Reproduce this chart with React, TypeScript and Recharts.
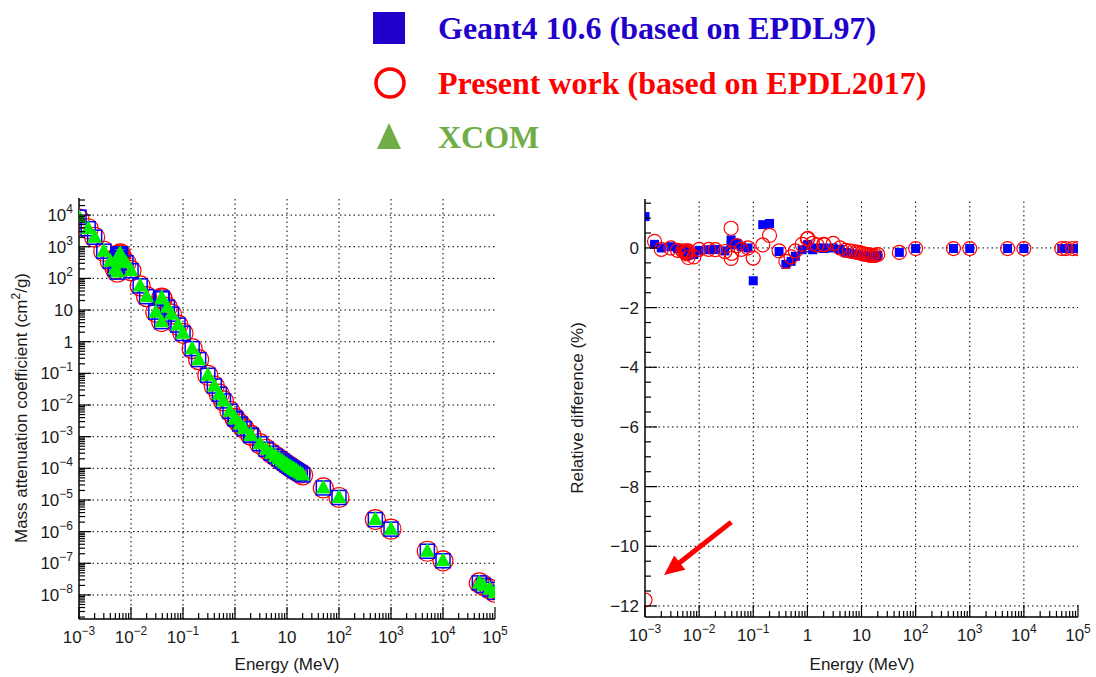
import React from 'react';
import { ScatterChart, Scatter, XAxis, YAxis, ReferenceLine } from 'recharts';

// ---------------- data ----------------
const energies = [
  1e-3, 1.5e-3, 2e-3, 3e-3, 4e-3, 5e-3, 5.483e-3, 5.483e-3, 5.891e-3, 5.891e-3,
  6e-3, 6.266e-3, 6.266e-3, 8e-3, 1e-2, 1.5e-2, 2e-2, 3e-2, 3.8925e-2, 3.8925e-2,
  4e-2, 5e-2, 6e-2, 8e-2, 0.1, 0.15, 0.2, 0.3, 0.4, 0.5,
  0.6, 0.8, 1, 1.022, 1.25, 1.5, 2, 2.044, 3, 4,
  5, 6, 7, 8, 9, 10, 11, 12, 13, 14,
  15, 16, 18, 20, 50, 100, 500, 1000, 5000, 1e4,
  5e4, 6e4, 8e4, 1e5,
];

const xcomValues = [
  8500, 3700, 2000, 720, 350, 200, 158, 430, 360, 560,
  540, 470, 600, 310, 175, 58, 26.5, 8.6, 4.3, 24,
  22.5, 12.2, 7.4, 3.35, 1.85, 0.6, 0.27, 0.087, 0.04, 0.022,
  0.0135, 0.0063, 0.0038, 0.0036, 0.0025, 0.0018, 0.00112, 0.00108, 0.0006, 0.0004,
  0.0003, 0.00024, 0.0002, 0.00017, 0.000148, 0.00013, 0.000117, 0.000106, 0.000097, 0.00009,
  0.000084, 0.000078, 0.00007, 0.000062, 2.4e-5, 1.2e-5, 2.4e-6, 1.2e-6, 2.4e-7, 1.2e-7,
  2.4e-8, 2.0e-8, 1.5e-8, 1.2e-8,
];

// relative difference to XCOM (%)
const geant4Diff = [
  1.05, 0.12, 0.0, 0.04, -0.02, -0.06, -0.08, -0.12, -0.15, -0.18,
  -0.2, -0.25, -0.12, -0.22, -0.08, -0.06, -0.05, -0.1, 0.27, 0.1,
  0.12, 0.15, 0.05, 0.0, -1.1, 0.78, 0.82, -0.12, -0.55, -0.45,
  -0.28, -0.06, 0.08, 0.12, -0.06, 0.0, 0.0, -0.02, 0.0, -0.05,
  -0.15, -0.18, -0.2, -0.22, -0.24, -0.25, -0.26, -0.27, -0.28, -0.28,
  -0.29, -0.28, -0.28, -0.25, -0.15, -0.02, -0.02, -0.02, -0.02, -0.02,
  -0.02, -0.02, -0.02, -0.02,
];

const presentDiff = [
  -11.8, 0.22, -0.05, 0.0, -0.08, -0.1, -0.12, -0.15, -0.2, -0.12,
  -0.1, -0.32, -0.1, -0.3, -0.05, -0.05, -0.06, -0.12, 0.66, -0.35,
  -0.18, 0.08, -0.05, 0.0, -0.34, 0.1, 0.42, -0.1, -0.45, -0.3,
  -0.1, 0.12, 0.3, 0.32, 0.15, 0.1, 0.12, 0.1, 0.15, 0.0,
  -0.08, -0.1, -0.12, -0.14, -0.15, -0.18, -0.2, -0.22, -0.22, -0.24,
  -0.25, -0.25, -0.25, -0.22, -0.15, -0.02, -0.02, -0.02, -0.02, -0.02,
  -0.02, -0.02, -0.02, -0.02,
];

const xMajorTicks = [1e-3, 1e-2, 1e-1, 1, 10, 100, 1e3, 1e4, 1e5];
const xTickLabels = [
  ['10', '\u22123'], ['10', '\u22122'], ['10', '\u22121'], ['1', ''], ['10', ''],
  ['10', '2'], ['10', '3'], ['10', '4'], ['10', '5'],
];
const yLogMajorTicks = [1e-8, 1e-7, 1e-6, 1e-5, 1e-4, 1e-3, 1e-2, 1e-1, 1, 10, 100, 1e3, 1e4];
const yLogTickLabels = [
  ['10', '\u22128'], ['10', '\u22127'], ['10', '\u22126'], ['10', '\u22125'], ['10', '\u22124'],
  ['10', '\u22123'], ['10', '\u22122'], ['10', '\u22121'], ['1', ''], ['10', ''],
  ['10', '2'], ['10', '3'], ['10', '4'],
];
const yLinMajorTicks = [-12, -10, -8, -6, -4, -2, 0];
const yLinTickLabels = ['\u221212', '\u221210', '\u22128', '\u22126', '\u22124', '\u22122', '0'];

const legendLabels = ['Geant4 10.6 (based on EPDL97)', 'Present work (based on EPDL2017)', 'XCOM'];

// ---------------- derived tables ----------------
const xDomain = [1e-3, 1e5];
const yLogDomain = [Math.pow(10, -8.76), Math.pow(10, 4.54)];
const yLinDomain = [-12.37, 1.64];

const minorLog = (lo: number, hi: number) => {
  const out: number[] = [];
  for (let k = Math.floor(Math.log10(lo)); k <= Math.ceil(Math.log10(hi)); k++) {
    for (let m = 2; m <= 9; m++) {
      const v = m * Math.pow(10, k);
      if (v > lo && v < hi) out.push(v);
    }
  }
  return out;
};
const xAllTicks = [...xMajorTicks, ...minorLog(xDomain[0], xDomain[1])];
const yLogAllTicks = [...yLogMajorTicks, ...minorLog(yLogDomain[0], yLogDomain[1])];
const yLinAllTicks: number[] = [];
for (let v = -12; v <= 1.5; v += 0.5) yLinAllTicks.push(v);

const leftXcom = energies.map((e, i) => ({ e, v: xcomValues[i] }));
const leftG4 = energies.map((e, i) => ({ e, v: xcomValues[i] * (1 + geant4Diff[i] / 100) }));
const leftPw = energies.map((e, i) => ({ e, v: xcomValues[i] * (1 + presentDiff[i] / 100) }));
const rightG4 = energies.map((e, i) => ({ e, v: geant4Diff[i] }));
const rightPw = energies.map((e, i) => ({ e, v: presentDiff[i] }));

// ---------------- styling ----------------
const AXIS_FONT = "'Liberation Sans', Arial, Helvetica, sans-serif";
const LEGEND_FONT = "'Liberation Serif', 'Times New Roman', serif";
const TXT = '#1a1a1a';
const BLUE = '#0000ff';
const RED = '#ff0000';
const GREEN = '#00ee00';
const LEG_BLUE = '#2200cc';
const LEG_GREEN = '#70ad47';
const MAJ = 12;
const MIN = 6;

const isDecade = (v: number) => {
  const l = Math.log10(v);
  return Math.abs(l - Math.round(l)) < 1e-6;
};
const findLog = (arr: number[], v: number) =>
  arr.findIndex((t) => Math.abs(Math.log10(t) - Math.log10(v)) < 1e-6);

const SupLabel = ({ x, y, base, sup, anchor }: any) => (
  <text x={x} y={y} textAnchor={anchor} fontSize={17} fontFamily={AXIS_FONT} fill={TXT}>
    {base}
    {sup ? (
      <tspan dy={-8} fontSize={12}>
        {sup}
      </tspan>
    ) : null}
  </text>
);

const XTick = (props: any) => {
  const { x, y, payload, side } = props;
  const v = payload.value;
  const major = isDecade(v);
  const sgn = side === 'bottom' ? -1 : 1;
  const idx = findLog(xMajorTicks, v);
  return (
    <g>
      <line x1={x} y1={y} x2={x} y2={y + sgn * (major ? MAJ : MIN)} stroke="#000" strokeWidth={1.2} />
      {side === 'bottom' && major && idx >= 0 ? (
        <SupLabel x={x} y={y + 24} base={xTickLabels[idx][0]} sup={xTickLabels[idx][1]} anchor="middle" />
      ) : null}
    </g>
  );
};

const YLogTick = (props: any) => {
  const { x, y, payload, side } = props;
  const v = payload.value;
  const major = isDecade(v);
  const sgn = side === 'left' ? 1 : -1;
  const idx = findLog(yLogMajorTicks, v);
  return (
    <g>
      <line x1={x} y1={y} x2={x + sgn * (major ? MAJ : MIN)} y2={y} stroke="#000" strokeWidth={1.2} />
      {side === 'left' && major && idx >= 0 ? (
        <SupLabel x={x - 6} y={y + 6} base={yLogTickLabels[idx][0]} sup={yLogTickLabels[idx][1]} anchor="end" />
      ) : null}
    </g>
  );
};

const YLinTick = (props: any) => {
  const { x, y, payload, side } = props;
  const v = payload.value;
  const idx = yLinMajorTicks.findIndex((t) => Math.abs(t - v) < 1e-6);
  const major = idx >= 0;
  const sgn = side === 'left' ? 1 : -1;
  return (
    <g>
      <line x1={x} y1={y} x2={x + sgn * (major ? MAJ : MIN)} y2={y} stroke="#000" strokeWidth={1.2} />
      {side === 'left' && major ? (
        <text x={x - 6} y={y + 6} textAnchor="end" fontSize={17} fontFamily={AXIS_FONT} fill={TXT}>
          {yLinTickLabels[idx]}
        </text>
      ) : null}
    </g>
  );
};

const OpenSquare = (p: any) =>
  p.cx == null ? null : (
    <rect x={p.cx - 7} y={p.cy - 7} width={14} height={14} fill="none" stroke={BLUE} strokeWidth={1.5} />
  );
const OpenCircleBig = (p: any) =>
  p.cx == null ? null : <circle cx={p.cx} cy={p.cy} r={10} fill="none" stroke={RED} strokeWidth={1.2} />;
const Triangle = (p: any) =>
  p.cx == null ? null : (
    <polygon
      points={`${p.cx},${p.cy - 8.5} ${p.cx - 7.5},${p.cy + 5.5} ${p.cx + 7.5},${p.cy + 5.5}`}
      fill={GREEN}
      stroke="none"
    />
  );
const FilledSquare = (p: any) =>
  p.cx == null ? null : <rect x={p.cx - 4.5} y={p.cy - 4.5} width={9} height={9} fill={BLUE} stroke="none" />;
const OpenCircleSmall = (p: any) =>
  p.cx == null ? null : <circle cx={p.cx} cy={p.cy} r={7} fill="none" stroke={RED} strokeWidth={1.2} />;

const ArrowShape = (p: any) => {
  const { x1, y1, x2, y2 } = p;
  if (x1 == null) return null;
  const dx = x2 - x1;
  const dy = y2 - y1;
  const L = Math.sqrt(dx * dx + dy * dy);
  const ux = dx / L;
  const uy = dy / L;
  const hl = 20;
  const hw = 9;
  const bx = x2 - ux * hl;
  const by = y2 - uy * hl;
  return (
    <g>
      <line x1={x1} y1={y1} x2={bx + ux * 2} y2={by + uy * 2} stroke={RED} strokeWidth={5} />
      <polygon
        points={`${x2},${y2} ${bx - uy * hw},${by + ux * hw} ${bx + uy * hw},${by - ux * hw}`}
        fill={RED}
      />
    </g>
  );
};

const axisLine = { stroke: '#000', strokeWidth: 1.5 };
const gridProps = { stroke: '#000', strokeWidth: 1, strokeDasharray: '1.5 3' };
const arrowSegment = [
  { x: 0.0392, y: -9.19 },
  { x: 0.00225, y: -10.96 },
];

const LeftChart = () => (
  <ScatterChart width={520} height={487} margin={{ top: 8, right: 25, bottom: 0, left: 0 }}>
    <XAxis
      xAxisId="b" type="number" dataKey="e" scale="log" domain={xDomain} allowDataOverflow
      ticks={xAllTicks} interval={0} tickLine={false} tickSize={0} tickMargin={0}
      tick={<XTick side="bottom" />} axisLine={axisLine} height={58}
    />
    <XAxis
      xAxisId="t" orientation="top" type="number" scale="log" domain={xDomain} allowDataOverflow
      ticks={xAllTicks} interval={0} tickLine={false} tickSize={0} tickMargin={0}
      tick={<XTick side="top" />} axisLine={axisLine} height={0}
    />
    <YAxis
      yAxisId="l" type="number" dataKey="v" scale="log" domain={yLogDomain} allowDataOverflow
      ticks={yLogAllTicks} interval={0} tickLine={false} tickSize={0} tickMargin={0}
      tick={<YLogTick side="left" />} axisLine={axisLine} width={79}
    />
    <YAxis
      yAxisId="r" orientation="right" type="number" scale="log" domain={yLogDomain} allowDataOverflow
      ticks={yLogAllTicks} interval={0} tickLine={false} tickSize={0} tickMargin={0}
      tick={<YLogTick side="right" />} axisLine={axisLine} width={0}
    />
    {xMajorTicks.slice(1, -1).map((v) => (
      <ReferenceLine key={'gx' + v} xAxisId="b" yAxisId="l" x={v} {...gridProps} />
    ))}
    {yLogMajorTicks.map((v) => (
      <ReferenceLine key={'gy' + v} xAxisId="b" yAxisId="l" y={v} {...gridProps} />
    ))}
    <Scatter name={legendLabels[1]} xAxisId="b" yAxisId="l" data={leftPw} shape={<OpenCircleBig />} isAnimationActive={false} />
    <Scatter name={legendLabels[0]} xAxisId="b" yAxisId="l" data={leftG4} shape={<OpenSquare />} isAnimationActive={false} />
    <Scatter name={legendLabels[2]} xAxisId="b" yAxisId="l" data={leftXcom} shape={<Triangle />} isAnimationActive={false} />
  </ScatterChart>
);

const RightChart = () => (
  <ScatterChart width={536} height={487} margin={{ top: 9, right: 18, bottom: 0, left: 0 }}>
    <XAxis
      xAxisId="b" type="number" dataKey="e" scale="log" domain={xDomain} allowDataOverflow
      ticks={xAllTicks} interval={0} tickLine={false} tickSize={0} tickMargin={0}
      tick={<XTick side="bottom" />} axisLine={axisLine} height={60}
    />
    <XAxis
      xAxisId="t" orientation="top" type="number" scale="log" domain={xDomain} allowDataOverflow
      ticks={xAllTicks} interval={0} tickLine={false} tickSize={0} tickMargin={0}
      tick={<XTick side="top" />} axisLine={axisLine} height={0}
    />
    <YAxis
      yAxisId="l" type="number" dataKey="v" domain={yLinDomain} allowDataOverflow
      ticks={yLinAllTicks} interval={0} tickLine={false} tickSize={0} tickMargin={0}
      tick={<YLinTick side="left" />} axisLine={axisLine} width={85}
    />
    <YAxis
      yAxisId="r" orientation="right" type="number" domain={yLinDomain} allowDataOverflow
      ticks={yLinAllTicks} interval={0} tickLine={false} tickSize={0} tickMargin={0}
      tick={<YLinTick side="right" />} axisLine={axisLine} width={0}
    />
    {xMajorTicks.slice(1, -1).map((v) => (
      <ReferenceLine key={'gx' + v} xAxisId="b" yAxisId="l" x={v} {...gridProps} />
    ))}
    {yLinMajorTicks.map((v) => (
      <ReferenceLine key={'gy' + v} xAxisId="b" yAxisId="l" y={v} {...gridProps} />
    ))}
    <Scatter name={legendLabels[0]} xAxisId="b" yAxisId="l" data={rightG4} shape={<FilledSquare />} isAnimationActive={false} />
    <Scatter name={legendLabels[1]} xAxisId="b" yAxisId="l" data={rightPw} shape={<OpenCircleSmall />} isAnimationActive={false} />
    <ReferenceLine xAxisId="b" yAxisId="l" segment={arrowSegment} shape={(p: any) => <ArrowShape {...p} />} ifOverflow="visible" />
  </ScatterChart>
);

const Overlay = () => (
  <svg width={1096} height={677} style={{ position: 'absolute', left: 0, top: 0, pointerEvents: 'none' }}>
    {/* legend */}
    <rect x={373} y={12} width={32} height={32} fill={LEG_BLUE} />
    <text x={438} y={39} fontSize={32} fontWeight="bold" fontFamily={LEGEND_FONT} fill={LEG_BLUE}>
      {legendLabels[0]}
    </text>
    <circle cx={390} cy={83} r={14} fill="none" stroke={RED} strokeWidth={3.5} />
    <text x={438} y={94} fontSize={32} fontWeight="bold" fontFamily={LEGEND_FONT} fill={RED}>
      {legendLabels[1]}
    </text>
    <polygon points="389,123 377,149 401,149" fill={LEG_GREEN} />
    <text x={438} y={148} fontSize={32} fontWeight="bold" fontFamily={LEGEND_FONT} fill={LEG_GREEN}>
      {legendLabels[2]}
    </text>
    {/* axis titles */}
    <text transform="translate(27,408) rotate(-90)" textAnchor="middle" fontSize={17} fontFamily={AXIS_FONT} fill={TXT}>
      Mass attenuation coefficient (cm
      <tspan dy={-7} fontSize={12}>2</tspan>
      <tspan dy={7}>/g)</tspan>
    </text>
    <text transform="translate(583,408) rotate(-90)" textAnchor="middle" fontSize={17} fontFamily={AXIS_FONT} fill={TXT}>
      Relative difference (%)
    </text>
    <text x={287} y={670} textAnchor="middle" fontSize={17} fontFamily={AXIS_FONT} fill={TXT}>
      Energy (MeV)
    </text>
    <text x={862} y={670} textAnchor="middle" fontSize={17} fontFamily={AXIS_FONT} fill={TXT}>
      Energy (MeV)
    </text>
  </svg>
);

export default function App() {
  return (
    <div style={{ position: 'absolute', left: 0, top: 0, width: 1096, height: 677, background: '#fff', overflow: 'hidden' }}>
      <div style={{ position: 'absolute', left: 0, top: 190 }}>
        <LeftChart />
      </div>
      <div style={{ position: 'absolute', left: 560, top: 190 }}>
        <RightChart />
      </div>
      <Overlay />
    </div>
  );
}
